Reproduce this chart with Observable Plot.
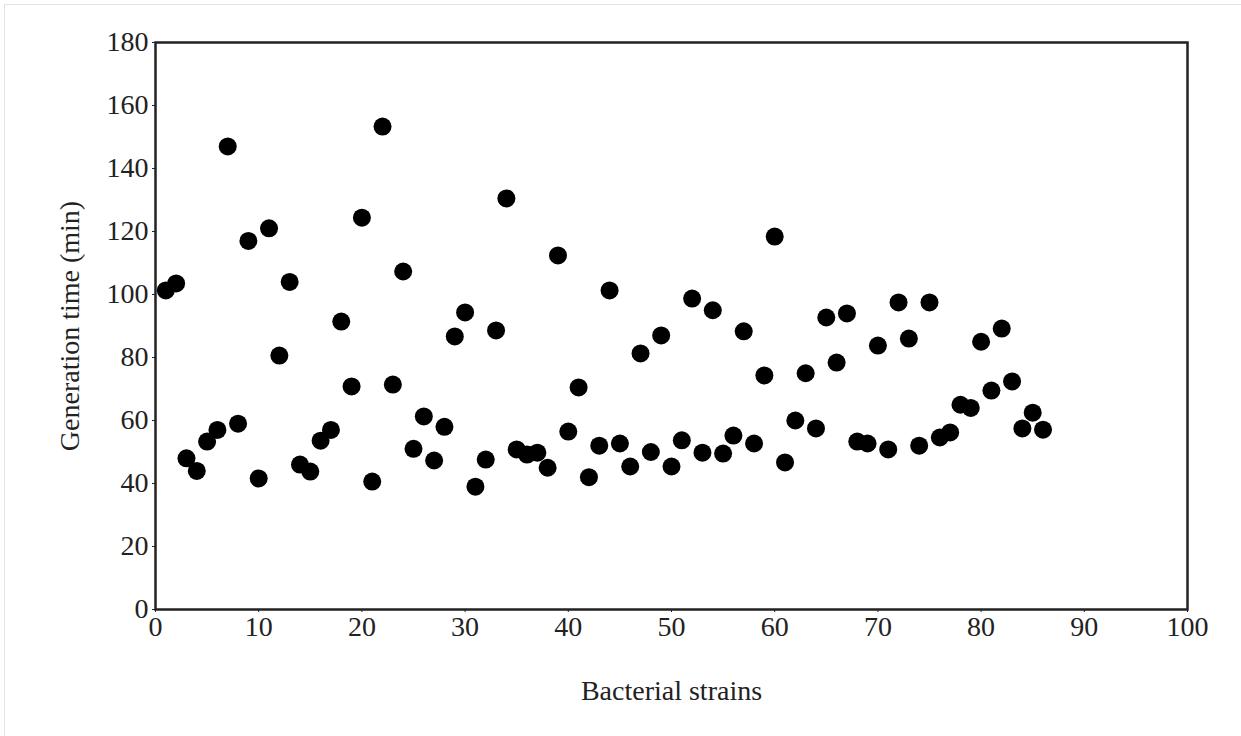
<!DOCTYPE html>
<html>
<head>
<meta charset="utf-8">
<script src="https://cdn.jsdelivr.net/npm/d3@7"></script>
<script src="https://cdn.jsdelivr.net/npm/@observablehq/plot@0.6"></script>
<style>
  html, body { margin: 0; padding: 0; background: #fff; }
  #wrap { position: relative; width: 1241px; height: 736px; overflow: hidden; }
  #border { position: absolute; left: 4px; top: 4px; width: 1240px; height: 740px; border: 1px solid #e3e3e3; box-sizing: border-box; }
  #chart { position: absolute; left: 0; top: 0; }
</style>
</head>
<body>
<div id="wrap"><div id="border"></div><div id="chart"></div></div>
<script>
// Bacterial strain index
const strains = d3.range(1, 87);
// Generation time (min)
const generationTime = [
  101.3, 103.5, 48, 44, 53.3, 57, 147, 59, 117, 41.6,
  121, 80.6, 104, 46, 43.8, 53.6, 57, 91.4, 70.8, 124.4,
  40.6, 153.3, 71.4, 107.3, 51, 61.3, 47.3, 58, 86.7, 94.3,
  39, 47.6, 88.6, 130.5, 50.8, 49.2, 49.8, 45, 112.4, 56.5,
  70.5, 42, 52, 101.3, 52.7, 45.4, 81.3, 50, 87, 45.4,
  53.7, 98.7, 49.8, 95, 49.5, 55.2, 88.3, 52.7, 74.3, 118.4,
  46.7, 60, 75, 57.5, 92.7, 78.4, 94, 53.3, 52.7, 83.8,
  50.8, 97.5, 86, 52, 97.5, 54.6, 56.2, 65, 64, 85,
  69.5, 89.2, 72.4, 57.5, 62.5, 57.1
];
const xTicks = [0, 10, 20, 30, 40, 50, 60, 70, 80, 90, 100];
const yTicks = [0, 20, 40, 60, 80, 100, 120, 140, 160, 180];

const data = strains.map((s, i) => ({strain: s, time: generationTime[i]}));

const chart = Plot.plot({
  width: 1241,
  height: 736,
  marginLeft: 155,
  marginRight: 54,
  marginTop: 42,
  marginBottom: 127,
  style: {fontFamily: "'Liberation Serif', 'DejaVu Serif', serif", fontSize: "26px", color: "#222", background: "transparent"},
  x: {domain: [0, 100]},
  y: {domain: [0, 180]},
  marks: [
    Plot.axisX({ticks: xTicks, tickSize: 3, tickPadding: 4, label: "Bacterial strains", labelAnchor: "center", labelArrow: "none", labelOffset: 90, fontSize: 28}),
    Plot.axisY({ticks: yTicks, tickSize: 3, tickPadding: 4, label: "Generation time (min)", labelAnchor: "center", labelArrow: "none", labelOffset: 96, fontSize: 28}),
    Plot.frame({stroke: "#222", strokeWidth: 2.5}),
    Plot.dot(data, {x: "strain", y: "time", r: 9, fill: "#000", stroke: "none"})
  ]
});
document.getElementById("chart").appendChild(chart);
</script>
</body>
</html>
